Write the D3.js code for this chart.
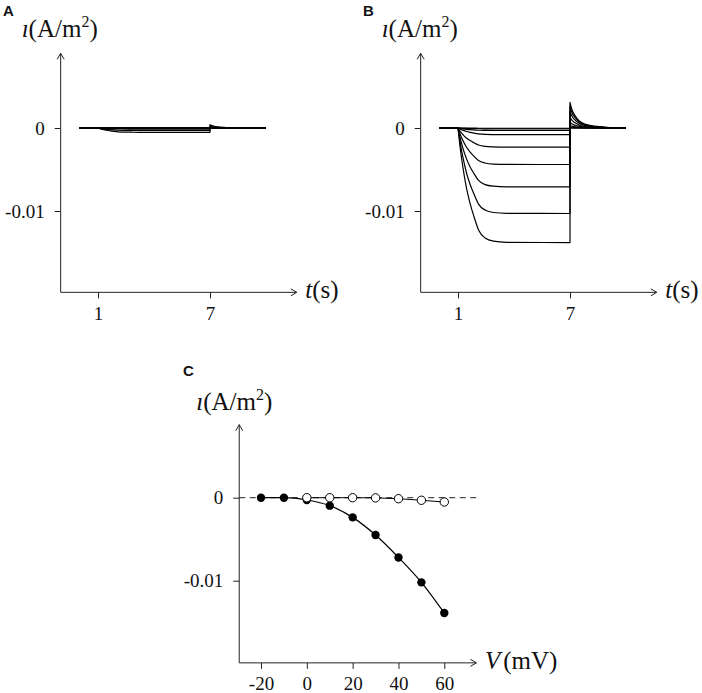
<!DOCTYPE html>
<html>
<head>
<meta charset="utf-8">
<script src="https://cdn.jsdelivr.net/npm/d3@7"></script>
<style>
  body { margin: 0; background: #fff; }
  svg { display: block; }
  .lbl { font-family: "Liberation Serif", serif; fill: #111; }
  .panel-letter { font-family: "Liberation Sans", Arial, sans-serif; font-weight: bold; font-size: 15px; fill: #111; }
</style>
</head>
<body>
<div id="chart"></div>
<script>
// --- data ---
const voltages = [-20, -10, 0, 10, 20, 30, 40, 50, 60];   // mV, one trace per step
const holdTimes = [0, 1];
const actTimes = [1, 1.1, 1.25, 1.45, 1.65, 1.85, 2.1, 2.45, 2.9, 3.6, 7];
const tailTimes = [7, 7.1, 7.25, 7.5, 7.85, 8.3, 8.9, 10];

// panel A: current during the step (A/m2)
const actA = [
  [0, 0, 0, 0, 0, 0, 0, 0, 0, 0, 0],
  [0, 0, 0, 0, 0, 0, 0, 0, 0, 0, 0],
  [0, 0, 0, 0, 0, 0, 0, 0, 0, 0, 0],
  [0, 0, 0, 0, 0, -0.00001, -0.00001, -0.00001, -0.00001, -0.00001, -0.00001],
  [0, 0, -0.00001, -0.00001, -0.00001, -0.00002, -0.00002, -0.00002, -0.00002, -0.00002, -0.00002],
  [0, -0.00001, -0.00002, -0.00003, -0.00003, -0.00004, -0.00004, -0.00005, -0.00005, -0.00005, -0.00005],
  [0, -0.00002, -0.00004, -0.00007, -0.00009, -0.0001, -0.00012, -0.00012, -0.00013, -0.00013, -0.00013],
  [0, -0.00005, -0.0001, -0.00016, -0.0002, -0.00023, -0.00027, -0.00029, -0.0003, -0.0003, -0.0003],
  [0, -0.00008, -0.00017, -0.00027, -0.00034, -0.0004, -0.00046, -0.0005, -0.00051, -0.00052, -0.00052]
];
// panel A: tail current after the step
const tailA = [
  [0, 0, 0, 0, 0, 0, 0, 0],
  [0, 0, 0, 0, 0, 0, 0, 0],
  [0, 0, 0, 0, 0, 0, 0, 0],
  [0, 0, 0, 0, 0, 0, 0, 0],
  [0.00002, 0.00001, 0.00001, 0.00001, 0, 0, 0, 0],
  [0.00005, 0.00004, 0.00003, 0.00001, 0.00001, 0, 0, 0],
  [0.00012, 0.00009, 0.00006, 0.00003, 0.00002, 0.00001, 0, 0],
  [0.00025, 0.00018, 0.00013, 0.00007, 0.00004, 0.00002, 0.00001, 0],
  [0.0004, 0.00029, 0.0002, 0.00011, 0.00006, 0.00003, 0.00001, 0]
];

// panel B: current during the step (A/m2)
const actB = [
  [0, 0, -0.00001, -0.00002, -0.00002, -0.00002, -0.00003, -0.00003, -0.00003, -0.00003, -0.00003],
  [0, -0.00002, -0.00003, -0.00005, -0.00007, -0.00008, -0.00009, -0.0001, -0.0001, -0.0001, -0.0001],
  [0, -0.00005, -0.0001, -0.00016, -0.0002, -0.00023, -0.00027, -0.00029, -0.0003, -0.0003, -0.0003],
  [0, -0.00012, -0.00026, -0.00042, -0.00053, -0.00062, -0.00071, -0.00077, -0.00079, -0.0008, -0.0008],
  [0, -0.00035, -0.00076, -0.0012, -0.00152, -0.00177, -0.00205, -0.00221, -0.00227, -0.0023, -0.0023],
  [0, -0.00066, -0.00145, -0.00229, -0.0029, -0.00339, -0.00392, -0.00422, -0.00435, -0.00439, -0.0044],
  [0, -0.00107, -0.00234, -0.00369, -0.00469, -0.00547, -0.00632, -0.00682, -0.00701, -0.00709, -0.0071],
  [0, -0.00155, -0.0034, -0.00536, -0.0068, -0.00793, -0.00917, -0.00989, -0.01018, -0.01028, -0.0103],
  [0, -0.00207, -0.00455, -0.00718, -0.00911, -0.01063, -0.01228, -0.01325, -0.01363, -0.01377, -0.0138]
];
// panel B: tail current after the step
const tailB = [
  [0, 0, 0, 0, 0, 0, 0, 0],
  [0.00003, 0.00002, 0.00002, 0.00001, 0, 0, 0, 0],
  [0.0001, 0.00007, 0.00005, 0.00003, 0.00001, 0.00001, 0, 0],
  [0.0003, 0.00022, 0.00015, 0.00008, 0.00004, 0.00002, 0.00001, 0],
  [0.0007, 0.0005, 0.00035, 0.00019, 0.0001, 0.00005, 0.00002, 0],
  [0.0013, 0.00094, 0.00065, 0.00035, 0.00018, 0.00009, 0.00004, 0.00001],
  [0.002, 0.00144, 0.001, 0.00054, 0.00028, 0.00014, 0.00006, 0.00001],
  [0.0026, 0.00187, 0.0013, 0.0007, 0.00036, 0.00018, 0.00008, 0.00001],
  [0.0031, 0.00223, 0.00155, 0.00084, 0.00043, 0.00022, 0.00009, 0.00002]
];

// panel C: I-V curves
const ivFilledV = [-20, -10, 0, 10, 20, 30, 40, 50, 60];
const ivFilled = [0, 0, -0.00028, -0.00096, -0.00237, -0.0045, -0.0072, -0.0102, -0.0139];
const ivOpenV = [0, 10, 20, 30, 40, 50, 60];
const ivOpen = [0, 0, 0, -0.00002, -0.00012, -0.00031, -0.00052];

// tick labels
const timeTicks = [1, 7];
const currentTicks = [0, -0.01];
const voltTicks = [-20, 0, 20, 40, 60];

const W = 702, H = 693;
const svg = d3.select("#chart").append("svg").attr("width", W).attr("height", H);

const AX = "#222";
const fmtPlain = d => String(d);   // keep "-" as a plain hyphen like the original

function arrowUp(g, x, y) {
    g.append("path").attr("d", `M${x - 3.5},${y + 6}L${x},${y}L${x + 3.5},${y + 6}`)
        .attr("fill", "none").attr("stroke", AX).attr("stroke-width", 1);
}
function arrowRight(g, x, y) {
    g.append("path").attr("d", `M${x - 6},${y - 3.5}L${x},${y}L${x - 6},${y + 3.5}`)
        .attr("fill", "none").attr("stroke", AX).attr("stroke-width", 1);
}

function styleAxis(sel) {
    sel.select(".domain").remove();
    sel.selectAll(".tick line").attr("stroke", AX).attr("stroke-width", 1);
    sel.selectAll(".tick text").attr("class", "lbl").attr("font-size", 19).attr("fill", "#111");
}

// y axis label "ı(A/m²)"
function currentLabel(g, x, y) {
    const t = g.append("text").attr("class", "lbl").attr("x", x).attr("y", y).attr("font-size", 25);
    t.append("tspan").attr("font-style", "italic").text("ı");
    t.append("tspan").text("(A/m");
    t.append("tspan").attr("font-size", 16).attr("dy", -10).text("2");
    t.append("tspan").attr("dy", 10).text(")");
}

// --- panels A and B ---
function tracePanel(dx, letter, act, tail) {
    const g = svg.append("g").attr("transform", `translate(${dx},0)`);
    const x = d3.scaleLinear().domain([1, 7]).range([98, 210]);
    const y = d3.scaleLinear().domain([0, -0.01]).range([128, 211]);

    const x0 = x(-1), yBot = y(-0.0198);

    // axes
    g.append("line").attr("x1", x0).attr("x2", x0).attr("y1", yBot).attr("y2", y(0.009))
        .attr("stroke", AX).attr("stroke-width", 1);
    arrowUp(g, x0, y(0.009));
    g.append("line").attr("x1", x0).attr("x2", x(11.65)).attr("y1", yBot).attr("y2", yBot)
        .attr("stroke", AX).attr("stroke-width", 1);
    arrowRight(g, x(11.65), yBot);

    g.append("g").attr("transform", `translate(${x0},0)`)
        .call(d3.axisLeft(y).tickValues(currentTicks).tickFormat(fmtPlain).tickSize(6).tickPadding(10))
        .call(styleAxis);
    g.append("g").attr("transform", `translate(0,${yBot})`)
        .call(d3.axisBottom(x).tickValues(timeTicks).tickFormat(fmtPlain).tickSize(6).tickPadding(8))
        .call(styleAxis);

    // traces
    const lin = d3.line().x(d => x(d[0])).y(d => y(d[1]));
    const smooth = d3.line().x(d => x(d[0])).y(d => y(d[1])).curve(d3.curveMonotoneX);
    voltages.forEach((v, i) => {
        const hold = holdTimes.map(t => [t, 0]);
        const a = actTimes.map((t, k) => [t, act[i][k]]);
        const tl = tailTimes.map((t, k) => [t, tail[i][k]]);
        const d = lin(hold) + smooth(a).replace(/^M/, "L") + smooth(tl).replace(/^M/, "L");
        g.append("path").attr("d", d).attr("fill", "none")
            .attr("stroke", "#000").attr("stroke-width", 1.2).attr("stroke-linejoin", "round");
    });

    currentLabel(g, x0 - 39, 36.5);
    const tl = g.append("text").attr("class", "lbl").attr("x", x(11.65) + 8.5).attr("y", yBot + 6).attr("font-size", 25);
    tl.append("tspan").attr("font-style", "italic").text("t");
    tl.append("tspan").text("(s)");

    g.append("text").attr("class", "panel-letter").attr("x", 3).attr("y", 15.5).text(letter);
}

tracePanel(0, "A", actA, tailA);
tracePanel(360, "B", actB, tailB);

// --- panel C ---
(function () {
    const g = svg.append("g");
    const x = d3.scaleLinear().domain([-20, 60]).range([261, 444.3]);
    const y = d3.scaleLinear().domain([0, -0.01]).range([497.7, 580.7]);
    const x0 = x(-29.5), yBot = y(-0.0199);

    g.append("line").attr("x1", x0).attr("x2", x0).attr("y1", yBot).attr("y2", y(0.0088))
        .attr("stroke", AX).attr("stroke-width", 1);
    arrowUp(g, x0, y(0.0088));
    g.append("line").attr("x1", x0).attr("x2", x(74)).attr("y1", yBot).attr("y2", yBot)
        .attr("stroke", AX).attr("stroke-width", 1);
    arrowRight(g, x(74), yBot);

    g.append("g").attr("transform", `translate(${x0},0)`)
        .call(d3.axisLeft(y).tickValues(currentTicks).tickFormat(fmtPlain).tickSize(6).tickPadding(10))
        .call(styleAxis);
    g.append("g").attr("transform", `translate(0,${yBot})`)
        .call(d3.axisBottom(x).tickValues(voltTicks).tickFormat(fmtPlain).tickSize(6).tickPadding(8))
        .call(styleAxis);

    // dashed zero line
    g.append("line").attr("x1", x0).attr("x2", x(75.5)).attr("y1", y(0)).attr("y2", y(0))
        .attr("stroke", AX).attr("stroke-width", 1).attr("stroke-dasharray", "6,4.5");

    const filled = ivFilledV.map((v, i) => [v, ivFilled[i]]);
    const open = ivOpenV.map((v, i) => [v, ivOpen[i]]);

    g.append("path").attr("d", d3.line().x(d => x(d[0])).y(d => y(d[1])).curve(d3.curveMonotoneX)(filled))
        .attr("fill", "none").attr("stroke", "#000").attr("stroke-width", 1.2);
    g.selectAll(".dotF").data(filled).enter().append("circle")
        .attr("cx", d => x(d[0])).attr("cy", d => y(d[1])).attr("r", 4.2).attr("fill", "#000");

    g.append("path").attr("d", d3.line().x(d => x(d[0])).y(d => y(d[1]))(open))
        .attr("fill", "none").attr("stroke", "#000").attr("stroke-width", 1);
    g.selectAll(".dotO").data(open).enter().append("circle")
        .attr("cx", d => x(d[0])).attr("cy", d => y(d[1])).attr("r", 4.2)
        .attr("fill", "#fff").attr("stroke", "#000").attr("stroke-width", 1);

    currentLabel(g, x0 - 43, 410);
    const vl = g.append("text").attr("class", "lbl").attr("x", x(74) + 8.5).attr("y", yBot + 6).attr("font-size", 25);
    vl.append("tspan").attr("font-style", "italic").text("V");
    vl.append("tspan").attr("dx", 3).text("(mV)");

    g.append("text").attr("class", "panel-letter").attr("x", 183).attr("y", 376).text("C");
})();
</script>
</body>
</html>
